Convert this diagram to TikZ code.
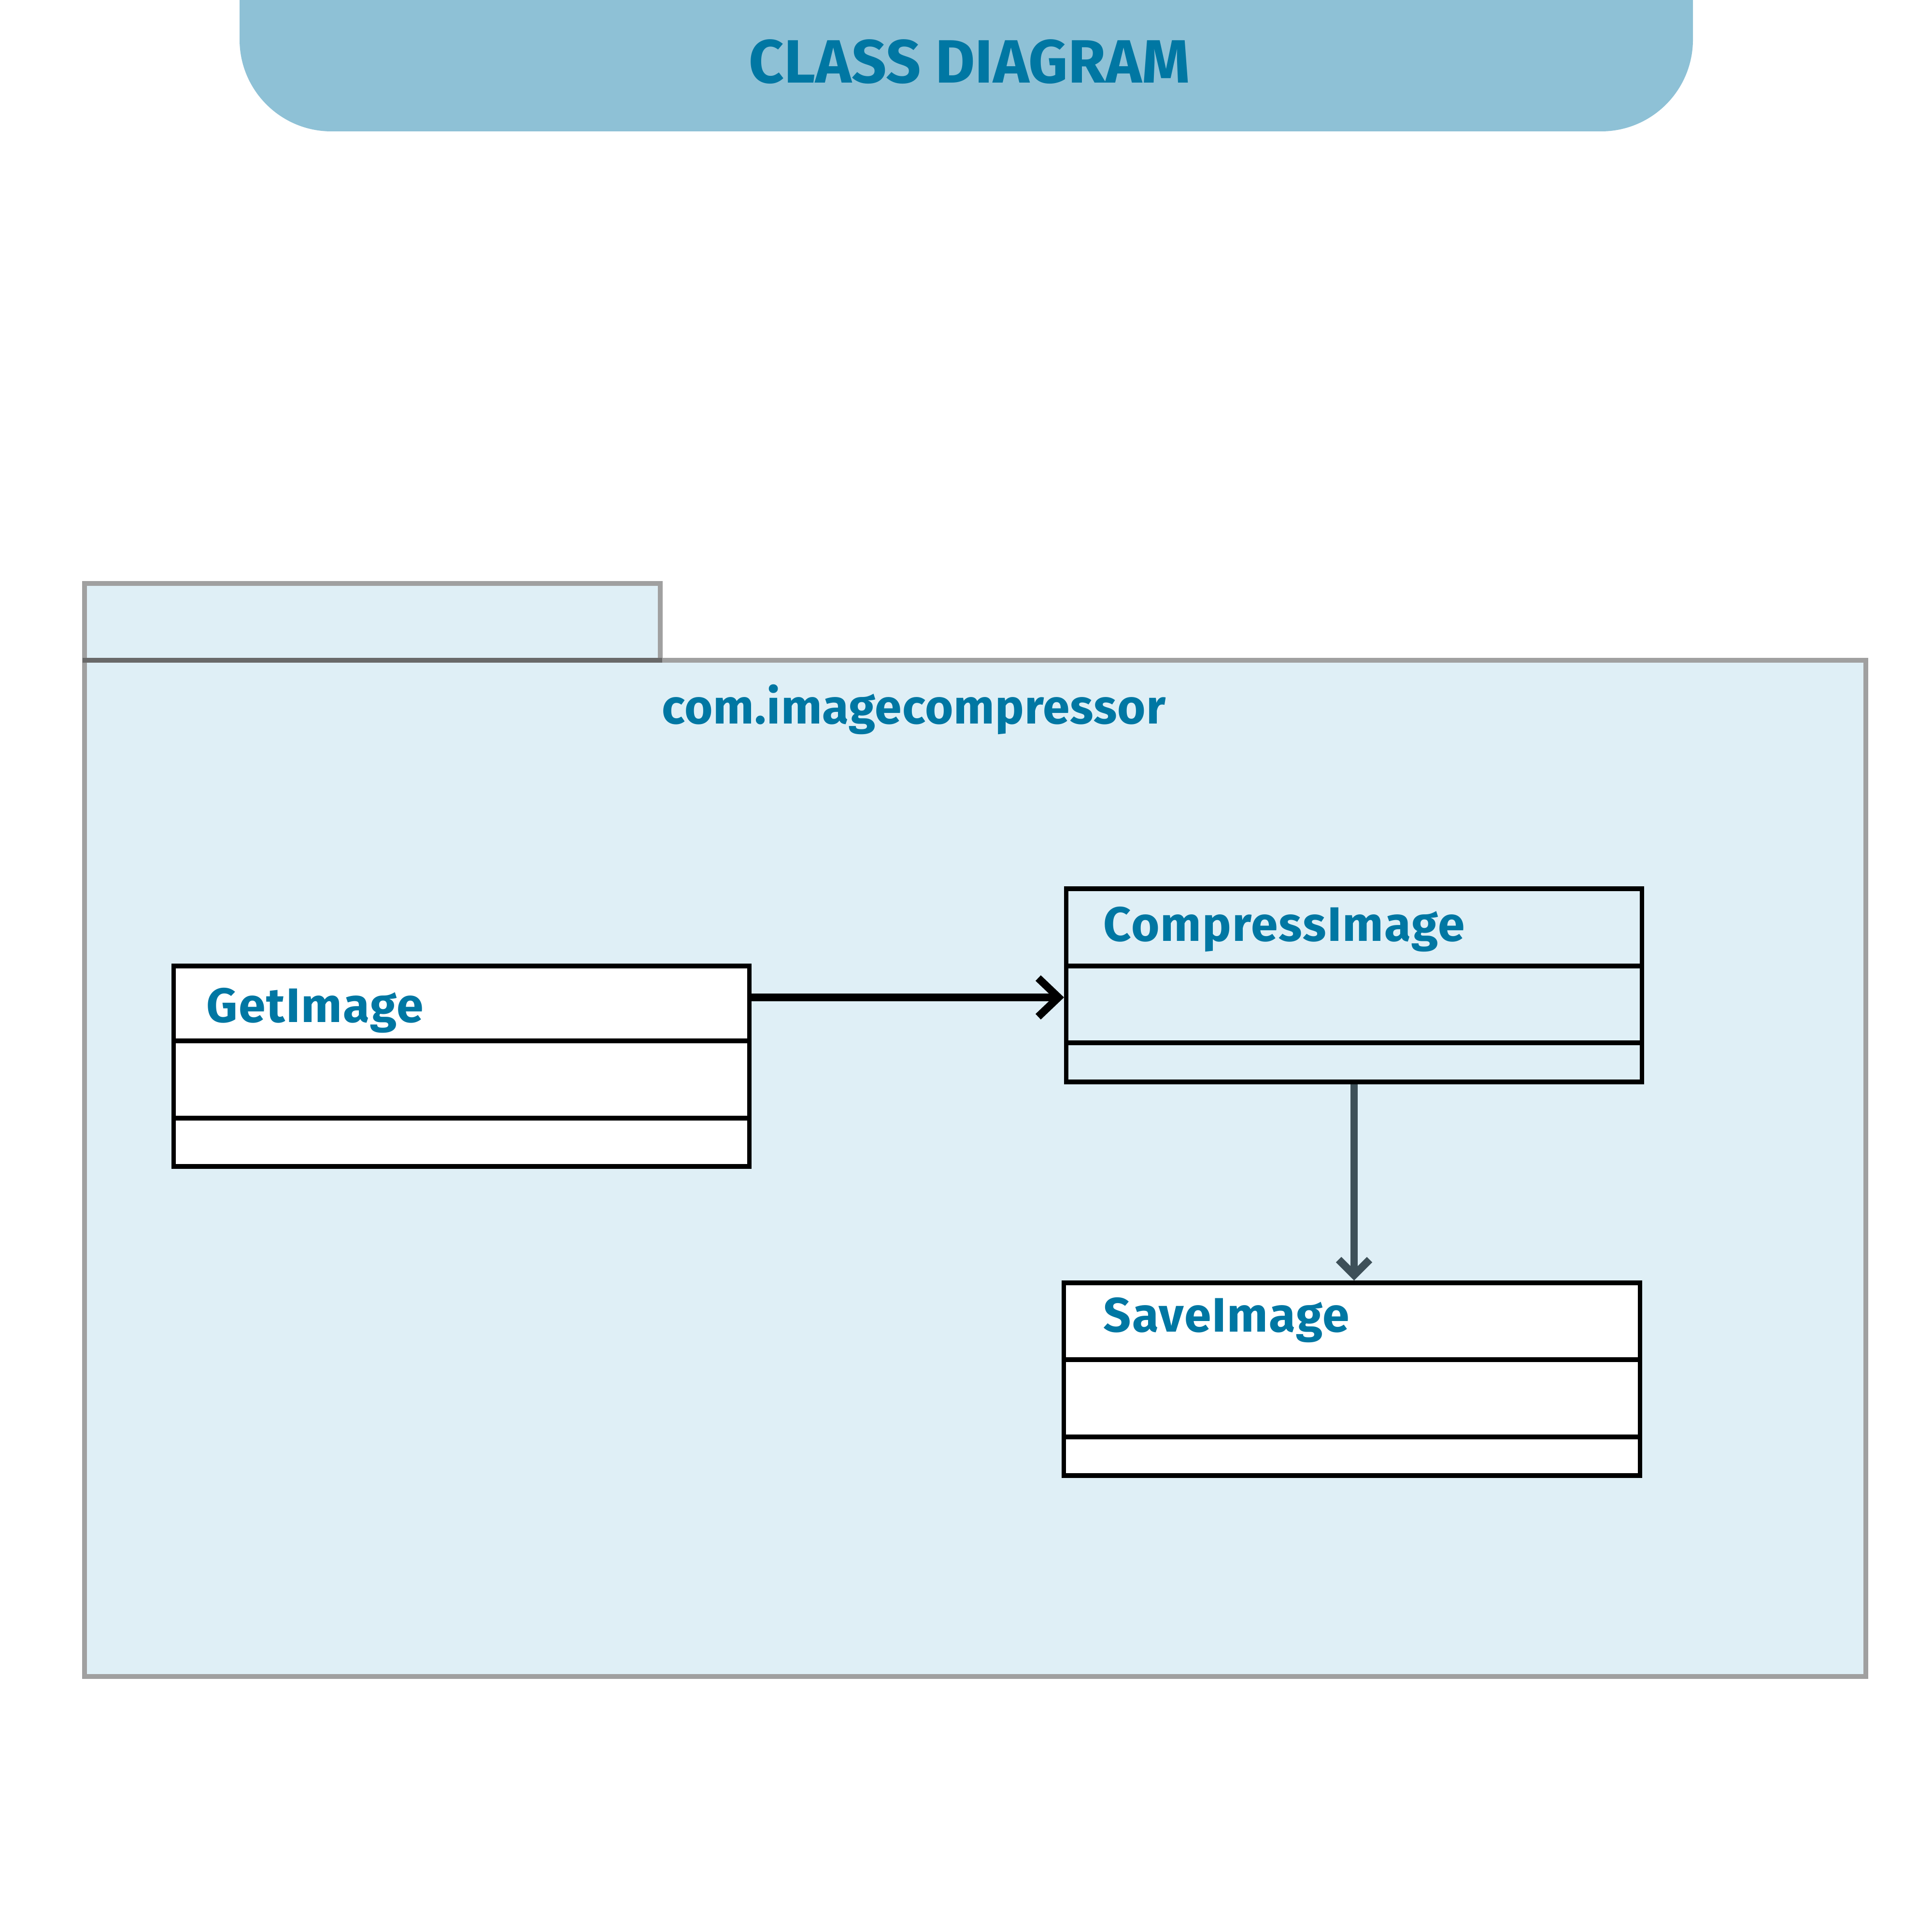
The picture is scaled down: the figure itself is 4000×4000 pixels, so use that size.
\documentclass[tikz,border=0pt]{standalone}
\usepackage{fontspec}
\setmainfont{Fira Sans}
\newfontfamily\clsfont[LetterSpace=2.0]{Fira Sans}
\newfontfamily\pkgfont[LetterSpace=1.0]{Fira Sans}
\usetikzlibrary{arrows.meta}
\definecolor{bannerblue}{HTML}{8EC1D6}
\definecolor{titleblue}{HTML}{0077A3}
\definecolor{pkgfill}{HTML}{DFEFF6}
\definecolor{pkgborder}{HTML}{A0A0A0}
\definecolor{tabline}{HTML}{696969}
\definecolor{slate}{HTML}{3E5058}
\tikzset{
  clsbox/.style={draw=black, line width=2.7pt, rectangle, inner sep=0pt, anchor=center},
  clsdiv/.style={draw=black, line width=2.7pt},
  clsname/.style={text=titleblue, font=\clsfont\bfseries\fontsize{28.5}{32}\selectfont, inner sep=0pt, anchor=base west},
  pkgline/.style={draw=pkgborder, line width=2.6pt},
  assoc/.style={line width=4.5pt, -{Straight Barb[length=0.42cm, width=0.8cm]}},
}
\begin{document}
\begin{tikzpicture}[x=0.01cm, y=-0.01cm]
\useasboundingbox (0,0) rectangle (4000,4000);
\fill[white] (0,0) rectangle (4000,4000);
% title banner
\fill[bannerblue, rounded corners=1.9cm] (496,-300) rectangle (3505,272);
\node[text=titleblue, font=\bfseries\fontsize{36}{40}\selectfont, inner sep=0pt, anchor=base] (title) at (2007,172) {CLASS DIAGRAM};
% package body
\fill[pkgfill] (175,1367) rectangle (3863,3471);
\fill[pkgfill] (175,1208) rectangle (1367,1367);
\draw[pkgline, line join=miter] (175,1367) rectangle (3863,3471);
\draw[pkgline, line join=miter] (175,1367) -- (175,1208) -- (1367,1208) -- (1367,1367);
\draw[draw=tabline, line width=2.6pt] (171,1367) -- (1371,1367);
\node[text=titleblue, font=\pkgfont\bfseries\fontsize{28.5}{32}\selectfont, inner sep=0pt, anchor=base] (pkgname) at (1892,1498) {com.imagecompressor};
% GetImage
\node[clsbox, fill=white, minimum width=11.91cm, minimum height=4.15cm] (get) at (955.5,2207.5) {};
\draw[clsdiv] (360,2155) -- (1551,2155);
\draw[clsdiv] (360,2315) -- (1551,2315);
\node[clsname] (getname) at (427,2116) {GetImage};
% CompressImage
\node[clsbox, minimum width=11.91cm, minimum height=4.0cm] (comp) at (2803.5,2040) {};
\draw[clsdiv] (2208,2000) -- (3399,2000);
\draw[clsdiv] (2208,2159) -- (3399,2159);
\node[clsname] (compname) at (2284,1948) {CompressImage};
% SaveImage
\node[clsbox, fill=white, minimum width=11.92cm, minimum height=3.99cm] (save) at (2799,2855.5) {};
\draw[clsdiv] (2203,2815) -- (3395,2815);
\draw[clsdiv] (2203,2975) -- (3395,2975);
\node[clsname] (savename) at (2284,2757) {SaveImage};
% connectors
\coordinate (ay) at (0,2065);
\draw[assoc, black] (get.east |- ay) -- (comp.west |- ay);
\draw[line width=4.5pt, slate, -{Straight Barb[length=0.32cm, width=0.64cm]}] (comp.south) -- (comp.south |- save.north);
\end{tikzpicture}
\end{document}
